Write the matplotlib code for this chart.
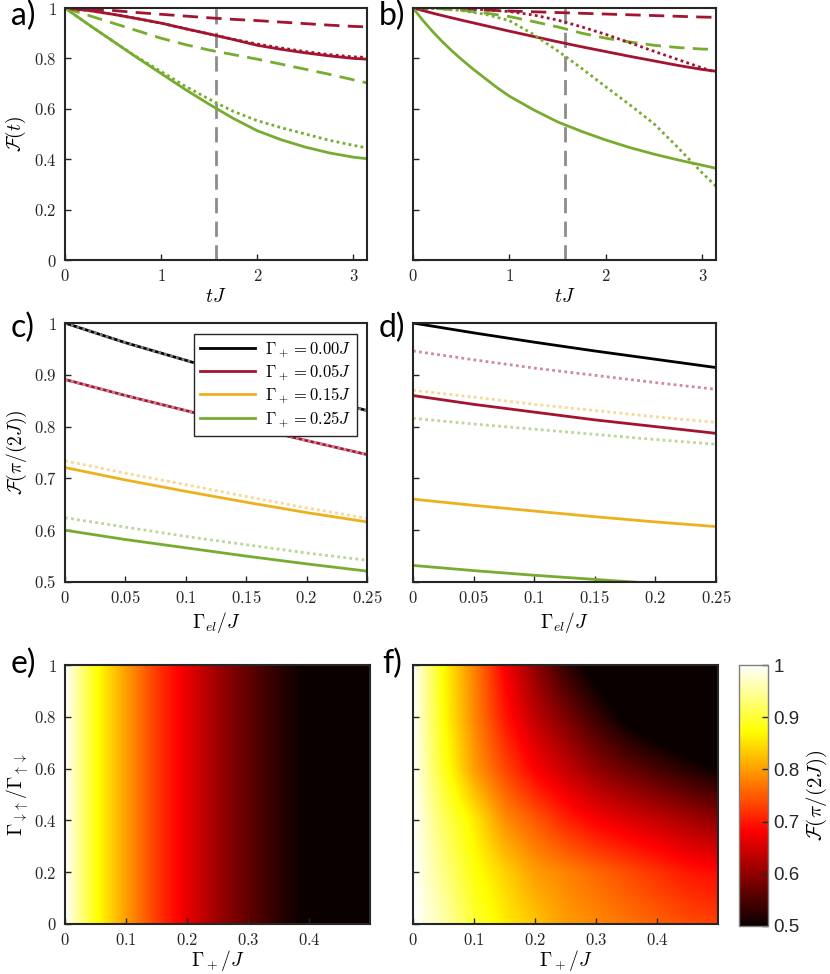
import matplotlib
matplotlib.use('Agg')
import matplotlib.pyplot as plt
import numpy as np

plt.rcParams['mathtext.fontset'] = 'cm'
plt.rcParams['font.family'] = ['DejaVu Serif']

RED = '#A2142F'
ORANGE = '#EDB120'
GREEN = '#77AC30'
BLACK = '#000000'
GRAY = '#8C8C8C'
AXC = '#262626'

# ---- panels a, b : fidelity vs time ----
t = [0, 0.25, 0.5, 0.75, 1.0, 1.25, 1.5, 1.75, 2.0, 2.25, 2.5, 2.75, 3.0, np.pi]
t_early = [0, 0.1, 0.2, 0.3, 0.4, 0.5, 0.625, 0.75, 0.875, 1.0, 1.25, 1.5, 1.75, 2.0,
           2.25, 2.5, 2.75, 3.0, np.pi]
T_GATE = np.pi / 2

a_red_dash = [1.0, 0.995, 0.99, 0.982, 0.975, 0.968, 0.961, 0.955, 0.95, 0.944, 0.938, 0.932, 0.927, 0.925]
a_red_solid = [1.0, 0.99, 0.975, 0.958, 0.94, 0.918, 0.897, 0.875, 0.852, 0.836, 0.822, 0.81, 0.80, 0.797]
a_red_dot = [1.0, 0.99, 0.975, 0.958, 0.94, 0.918, 0.897, 0.876, 0.857, 0.841, 0.827, 0.815, 0.806, 0.804]
a_green_dash = [1.0, 0.97, 0.94, 0.91, 0.88, 0.855, 0.833, 0.815, 0.797, 0.777, 0.757, 0.737, 0.715, 0.703]
a_green_solid = [1.0, 0.933, 0.868, 0.803, 0.74, 0.677, 0.618, 0.562, 0.513, 0.477, 0.448, 0.425, 0.408, 0.402]
a_green_dot = [1.0, 0.933, 0.868, 0.805, 0.748, 0.69, 0.638, 0.59, 0.553, 0.525, 0.50, 0.475, 0.455, 0.445]

b_red_dash = [1.0, 0.998, 0.995, 0.992, 0.988, 0.985, 0.982, 0.979, 0.976, 0.973, 0.970, 0.967, 0.964, 0.963]
b_red_solid = [1.0, 0.975, 0.952, 0.93, 0.908, 0.887, 0.866, 0.846, 0.827, 0.808, 0.79, 0.772, 0.756, 0.749]
b_red_dot = [1.0, 0.999, 0.997, 0.993, 0.986, 0.972, 0.952, 0.925, 0.895, 0.862, 0.828, 0.795, 0.762, 0.745]
b_green_dash = [1.0, 0.998, 0.992, 0.98, 0.966, 0.946, 0.925, 0.90, 0.88, 0.865, 0.852, 0.843, 0.837, 0.836]
b_green_solid = [1.0, 0.952, 0.908, 0.868, 0.831, 0.797, 0.757, 0.72, 0.683, 0.65, 0.596, 0.548, 0.51,
                 0.476, 0.446, 0.42, 0.397, 0.376, 0.364]
b_green_dot = [1.0, 0.998, 0.99, 0.975, 0.95, 0.895, 0.83, 0.76, 0.687, 0.615, 0.54, 0.445, 0.345, 0.293]

# ---- panels c, d : fidelity at pi/(2J) vs Gamma_el ----
g_el = [0, 0.05, 0.1, 0.15, 0.2, 0.25]
gp_labels = ['$\\Gamma_+ = 0.00J$', '$\\Gamma_+ = 0.05J$', '$\\Gamma_+ = 0.15J$', '$\\Gamma_+ = 0.25J$']

c_black = [1.0, 0.962, 0.928, 0.893, 0.861, 0.831]
c_red = [0.891, 0.86, 0.831, 0.801, 0.773, 0.746]
c_orange = [0.721, 0.697, 0.675, 0.654, 0.634, 0.616]
c_green = [0.60, 0.582, 0.566, 0.55, 0.535, 0.521]
c_black_dot = [1.0, 0.962, 0.928, 0.893, 0.861, 0.831]
c_red_dot = [0.891, 0.86, 0.831, 0.801, 0.773, 0.746]
c_orange_dot = [0.734, 0.71, 0.688, 0.665, 0.643, 0.623]
c_green_dot = [0.624, 0.606, 0.588, 0.572, 0.556, 0.542]

d_black = [1.0, 0.981, 0.963, 0.946, 0.93, 0.914]
d_red = [0.860, 0.843, 0.828, 0.813, 0.80, 0.787]
d_orange = [0.660, 0.648, 0.637, 0.626, 0.616, 0.607]
d_green = [0.532, 0.522, 0.513, 0.505, 0.497, 0.49]
d_red_dot = [0.946, 0.929, 0.913, 0.899, 0.885, 0.872]
d_orange_dot = [0.870, 0.857, 0.843, 0.831, 0.819, 0.808]
d_green_dot = [0.816, 0.805, 0.795, 0.785, 0.775, 0.766]

# ---- panels e, f : maps over Gamma_+ and ratio ----
g_plus = [0, 0.05, 0.1, 0.15, 0.2, 0.25, 0.3, 0.35, 0.4, 0.45, 0.5]
ratio = [0, 0.2, 0.4, 0.6, 0.8, 1.0]
e_row = [1.0, 0.88, 0.80, 0.725, 0.665, 0.61, 0.565, 0.525, 0.495, 0.47, 0.45]
f_grid = [
    [1.0, 0.96, 0.90, 0.86, 0.83, 0.80, 0.785, 0.77, 0.755, 0.74, 0.73],
    [1.0, 0.94, 0.88, 0.84, 0.80, 0.78, 0.76, 0.74, 0.72, 0.70, 0.69],
    [1.0, 0.92, 0.86, 0.79, 0.75, 0.71, 0.68, 0.66, 0.64, 0.62, 0.60],
    [1.0, 0.89, 0.80, 0.735, 0.68, 0.64, 0.60, 0.57, 0.545, 0.52, 0.50],
    [1.0, 0.875, 0.785, 0.70, 0.635, 0.585, 0.535, 0.49, 0.46, 0.44, 0.42],
    [1.0, 0.87, 0.78, 0.68, 0.60, 0.53, 0.48, 0.44, 0.41, 0.39, 0.37],
]


def light(c, f=0.5):
    rgb = np.array(matplotlib.colors.to_rgb(c))
    return tuple(rgb * (1 - f) + f)


W, H = 830, 974
fig = plt.figure(figsize=(W / 100, H / 100), dpi=100)


def px_axes(l, t_, r, b):
    return fig.add_axes([l / W, 1 - b / H, (r - l) / W, (b - t_) / H])


def style(ax, xt, yt, show_y=True):
    for s in ax.spines.values():
        s.set_color(AXC)
        s.set_linewidth(1.5)
    ax.tick_params(direction='in', length=4, width=1, colors=AXC, labelsize=12, pad=6)
    ax.set_xticks(xt, labels=[f'${v:g}$' for v in xt])
    if show_y:
        ax.set_yticks(yt, labels=[f'${v:g}$' for v in yt])
    else:
        ax.set_yticks(yt, labels=[])


DASH = (0, (5.5, 3))
DOT = (0, (1, 1.2))
LW = 2

ax_a = px_axes(65, 8, 367, 260)
ax_b = px_axes(413, 8, 716, 260)
for ax, sets, show in [
    (ax_a, (a_red_dash, a_red_solid, a_red_dot, a_green_dash, (t, a_green_solid), a_green_dot), True),
    (ax_b, (b_red_dash, b_red_solid, b_red_dot, b_green_dash, (t_early, b_green_solid), b_green_dot), False),
]:
    rd, rs, rdo, gd, (tg, gs), gdo = sets
    ax.plot([T_GATE, T_GATE], [0, 1], color=GRAY, lw=LW, ls=DASH)
    ax.plot(t, rd, color=RED, lw=LW, ls=DASH)
    ax.plot(t, gd, color=GREEN, lw=LW, ls=DASH)
    ax.plot(t, rs, color=RED, lw=LW)
    ax.plot(tg, gs, color=GREEN, lw=LW)
    ax.plot(t, rdo, color=RED, lw=LW, ls=DOT)
    ax.plot(t, gdo, color=GREEN, lw=LW, ls=DOT)
    ax.set_xlim(0, np.pi)
    ax.set_ylim(0, 1)
    style(ax, [0, 1, 2, 3], [0, 0.2, 0.4, 0.6, 0.8, 1], show)
    ax.set_xlabel('$tJ$', fontsize=14, labelpad=2)
ax_a.set_ylabel('$\\mathcal{F}(t)$', fontsize=14, labelpad=4)

ax_c = px_axes(65, 323, 367, 582)
ax_d = px_axes(413, 323, 716, 582)
cols = [BLACK, RED, ORANGE, GREEN]
for c, y, lab in zip(cols, [c_black, c_red, c_orange, c_green], gp_labels):
    ax_c.plot(g_el, y, color=c, lw=LW, label=lab)
for c, y in zip(cols, [c_black_dot, c_red_dot, c_orange_dot, c_green_dot]):
    ax_c.plot(g_el, y, color=light(c), lw=LW, ls=DOT)
for c, y in zip(cols, [d_black, d_red, d_orange, d_green]):
    ax_d.plot(g_el, y, color=c, lw=LW)
for c, y in zip(cols[1:], [d_red_dot, d_orange_dot, d_green_dot]):
    ax_d.plot(g_el, y, color=light(c), lw=LW, ls=DOT)
for ax, show in [(ax_c, True), (ax_d, False)]:
    ax.set_xlim(0, 0.25)
    ax.set_ylim(0.5, 1)
    style(ax, [0, 0.05, 0.1, 0.15, 0.2, 0.25], [0.5, 0.6, 0.7, 0.8, 0.9, 1], show)
    ax.set_xlabel('$\\Gamma_{el}/J$', fontsize=14, labelpad=2)
ax_c.set_ylabel('$\\mathcal{F}(\\pi/(2J))$', fontsize=14, labelpad=3)
leg = ax_c.legend(loc='upper right', bbox_to_anchor=(0.967, 0.958), borderaxespad=0,
                  fontsize=12, handlelength=3.3, fancybox=False, framealpha=1,
                  edgecolor=AXC, labelspacing=0.15, borderpad=0.35, handletextpad=0.6)
leg.get_frame().set_linewidth(1)

ax_e = px_axes(65, 665, 370, 924)
ax_f = px_axes(413, 665, 718, 924)
dx = (g_plus[1] - g_plus[0]) / 2
e_grid = np.array([e_row, e_row])
im = ax_e.imshow(e_grid, origin='lower', cmap='hot', vmin=0.5, vmax=1, aspect='auto',
                 extent=[g_plus[0] - dx, g_plus[-1] + dx, -1, 2], interpolation='bilinear')
dy = (ratio[1] - ratio[0]) / 2
ax_f.imshow(np.array(f_grid), origin='lower', cmap='hot', vmin=0.5, vmax=1, aspect='auto',
            extent=[g_plus[0] - dx, g_plus[-1] + dx, ratio[0] - dy, ratio[-1] + dy],
            interpolation='bilinear')
for ax, show in [(ax_e, True), (ax_f, False)]:
    ax.set_xlim(0, 0.5)
    ax.set_ylim(0, 1)
    style(ax, [0, 0.1, 0.2, 0.3, 0.4], [0, 0.2, 0.4, 0.6, 0.8, 1], show)
    ax.set_xlabel('$\\Gamma_+/J$', fontsize=14, labelpad=-1)
ax_e.set_ylabel('$\\Gamma_{\\downarrow\\uparrow}/\\Gamma_{\\uparrow\\downarrow}$', fontsize=14, labelpad=2)

cax = px_axes(739, 665, 768, 926)
cb = fig.colorbar(im, cax=cax)
cb.outline.set_edgecolor('#7f7f7f')
cb.outline.set_linewidth(1)
cb.set_ticks([0.5, 0.6, 0.7, 0.8, 0.9, 1.0], labels=['0.5', '0.6', '0.7', '0.8', '0.9', '1'])
cax.tick_params(direction='in', length=4, width=1, colors=AXC, labelsize=13.5, pad=4)
for lab in cax.get_yticklabels():
    lab.set_fontfamily('Liberation Sans')
cb.set_label('$\\mathcal{F}(\\pi/(2J))$', fontsize=15, labelpad=4)

for txt, x, y in [('a)', 11, 1), ('b)', 379, 1), ('c)', 11, 313), ('d)', 379, 313),
                  ('e)', 11, 649), ('f)', 382, 649)]:
    fig.text(x / W, 1 - y / H, txt, fontsize=23, family='Lato', va='top', ha='left')

fig.savefig('out.png', dpi=100)
